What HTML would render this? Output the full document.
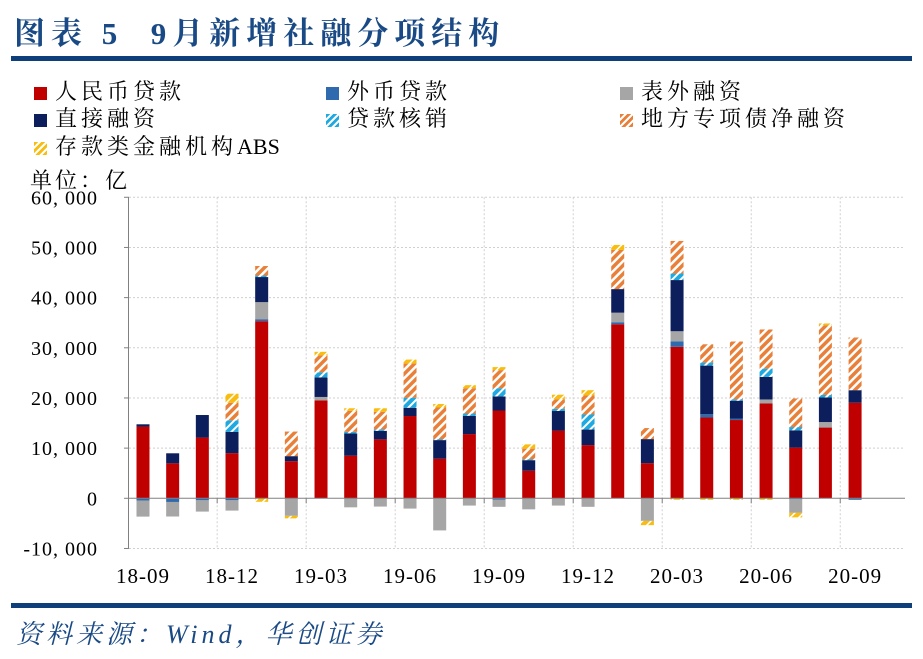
<!DOCTYPE html>
<html><head><meta charset="utf-8"><style>
body{margin:0;background:#fff;width:923px;height:659px;overflow:hidden;position:relative;font-family:"Liberation Serif","Noto Serif CJK SC",serif}
.t{position:absolute;white-space:nowrap}
.lg{position:absolute;font-size:22px;letter-spacing:4px;color:#000;font-family:"Liberation Serif","Noto Serif CJK SC",serif;white-space:nowrap}
.sw{display:inline-block;width:13px;height:13px;margin-right:8px;vertical-align:-1px}
</style></head><body>
<div class="t" style="left:14px;top:8px;font-size:31px;font-weight:bold;color:#1a4a85;font-family:'Liberation Serif','Noto Serif CJK SC',serif;letter-spacing:6px">图表 5 &nbsp;9月新增社融分项结构</div>
<div style="position:absolute;left:11px;top:56px;width:901px;height:5px;background:#0e3f7a"></div>
<div id="legend"></div>
<div class="t" style="left:30px;top:164px;font-size:22px;letter-spacing:3px;font-family:'Liberation Serif','Noto Serif CJK SC',serif">单位：亿</div>
<svg id="chart" width="923" height="659" style="position:absolute;left:0;top:0">
<defs>
<pattern id="pOrange" patternUnits="userSpaceOnUse" width="6" height="6" patternTransform="rotate(45)"><rect width="6" height="6" fill="#e9803a"/><rect width="2.5" height="6" fill="#fff"/></pattern>
<pattern id="pBlue" patternUnits="userSpaceOnUse" width="6" height="6" patternTransform="rotate(45)"><rect width="6" height="6" fill="#1fa9e1"/><rect width="2" height="6" fill="#fff"/></pattern>
<pattern id="pYellow" patternUnits="userSpaceOnUse" width="6" height="6" patternTransform="rotate(45)"><rect width="6" height="6" fill="#f8bd0f"/><rect width="1.5" height="6" fill="#fff"/></pattern>
</defs>
</svg>
<div style="position:absolute;left:11px;top:603px;width:901px;height:5px;background:#0e3f7a"></div>
<div class="t" style="left:16px;top:614px;font-size:26px;letter-spacing:4px;font-style:italic;color:#1a4a85;font-family:'Liberation Serif','Noto Serif CJK SC',serif">资料来源：Wind，华创证券</div>
<script>
const categories=["18-09","18-10","18-11","18-12","19-01","19-02","19-03","19-04","19-05","19-06","19-07","19-08","19-09","19-10","19-11","19-12","20-01","20-02","20-03","20-04","20-05","20-06","20-07","20-08","20-09"];
const seriesNames=["人民币贷款","外币贷款","表外融资","直接融资","贷款核销","地方专项债净融资","存款类金融机构ABS"];
const rmbLoans=[14300,6970,12100,9000,35300,7400,19500,8500,11750,16400,7900,12800,17500,5500,13500,10600,34700,7000,30200,16100,15600,18900,10100,14100,19050];
const fxLoans=[-450,-730,-400,-400,400,0,0,0,0,0,0,0,-300,0,0,0,400,0,1100,650,250,0,-200,0,-300];
const offBalance=[-3200,-2900,-2250,-2050,3400,-3500,700,-1800,-1650,-2050,-6400,-1450,-1400,-2200,-1450,-1700,1900,-4500,2000,0,0,800,-2700,1100,0];
const directFin=[450,2000,4500,4250,5000,1000,3900,4450,1700,1650,3700,3650,2800,2100,3900,3100,4700,4800,10200,9700,3600,4500,3450,4900,2500];
const writeOffs=[0,0,0,2300,300,0,1000,300,300,2000,200,450,1650,200,450,3000,0,0,1300,600,300,1650,650,500,0];
const specialBonds=[0,0,0,3500,1900,4900,3400,4200,3500,6800,6300,5050,3600,2100,1900,3800,7800,2200,6500,3650,11500,7800,5700,13900,10500];
const absIssue=[0,0,0,1800,-700,-500,700,500,700,800,700,600,600,850,900,1050,1000,-850,-300,-300,-300,-300,-900,350,0];
const yTicks=[-10000,0,10000,20000,30000,40000,50000,60000];
const xTickLabels=["18-09","18-12","19-03","19-06","19-09","19-12","20-03","20-06","20-09"];

const fills=["#c00000","#2e6aad","#a6a6a6","#0c1f5c","url(#pBlue)","url(#pOrange)","url(#pYellow)"];
const series=[rmbLoans,fxLoans,offBalance,directFin,writeOffs,specialBonds,absIssue];
const x0=143,step=29.67,barW=13,yZero=498.3,pxPer=50.17/10000;
const X=i=>x0+i*step, Y=v=>yZero-v*pxPer;
const svg=document.getElementById('chart');const NS="http://www.w3.org/2000/svg";
function mk(t,a){const e=document.createElementNS(NS,t);for(const k in a)e.setAttribute(k,a[k]);svg.appendChild(e);return e;}
yTicks.forEach(v=>{if(v===0)return;const g=mk('line',{x1:129,x2:905,y1:Y(v),y2:Y(v),stroke:'#d0d0d0','stroke-dasharray':'2,2'});

});
for(let k=1;k<categories.length/3;k++){const xx=X(3*k-0.5);const g=mk('line',{x1:xx,x2:xx,y1:Y(60000),y2:Y(-10000),stroke:'#d0d0d0','stroke-dasharray':'2,2'});

}
const ya=mk('line',{x1:128.5,x2:128.5,y1:Y(60000),y2:Y(-10000),stroke:'#808080'});


yTicks.forEach(v=>{mk('line',{x1:124,x2:129,y1:Y(v),y2:Y(v),stroke:'#808080'});
const t=mk('text',{x:98,y:Y(v)+7,'text-anchor':'end','font-size':'20','letter-spacing':'1','font-family':'"Liberation Serif","Noto Serif CJK SC",serif'});
t.textContent=v.toLocaleString('en-US').replace(',',', ');

});
categories.forEach((c,i)=>{let pos=0,neg=0;
series.forEach((s,j)=>{const v=s[i];if(!v)return;let y1,y2;
if(v>0){y1=Y(pos+v);y2=Y(pos);pos+=v;}else{y1=Y(neg);y2=Y(neg+v);neg+=v;}
const r=mk('rect',{x:X(i)-barW/2,y:y1,width:barW,height:Math.max(y2-y1,0.5),fill:fills[j]});

});});
const xa=mk('line',{x1:129,x2:905,y1:yZero,y2:yZero,stroke:'#808080'});


for(let k=1;k<categories.length/3;k++){const xx=X(3*k-0.5);mk('line',{x1:xx,x2:xx,y1:yZero,y2:yZero+5,stroke:'#808080'});}
xTickLabels.forEach(l=>{const i=categories.indexOf(l);const t=mk('text',{x:X(i),y:583,'text-anchor':'middle','font-size':'21','letter-spacing':'1','font-family':'"Liberation Serif",serif'});
t.textContent=l;

});
const lpos=[[34,75],[326,75],[620,75],[34,102],[326,102],[620,102],[34,130]];
const lfill=["#c00000","#2e6aad","#a6a6a6","#0c1f5c","repeating-linear-gradient(135deg,#1fa9e1 0 3px,#fff 3px 5px)","repeating-linear-gradient(135deg,#e9803a 0 3px,#fff 3px 5px)","repeating-linear-gradient(135deg,#f8bd0f 0 3px,#fff 3px 5px)"];
const lg=document.getElementById('legend');
seriesNames.forEach((n,j)=>{const d=document.createElement('div');d.className='lg';d.style.left=lpos[j][0]+'px';d.style.top=lpos[j][1]+'px';
d.innerHTML='<span class="sw" style="background:'+lfill[j]+'"></span>'+n.replace('ABS','<span style="letter-spacing:0">ABS</span>');


lg.appendChild(d);});
</script>
</body></html>
